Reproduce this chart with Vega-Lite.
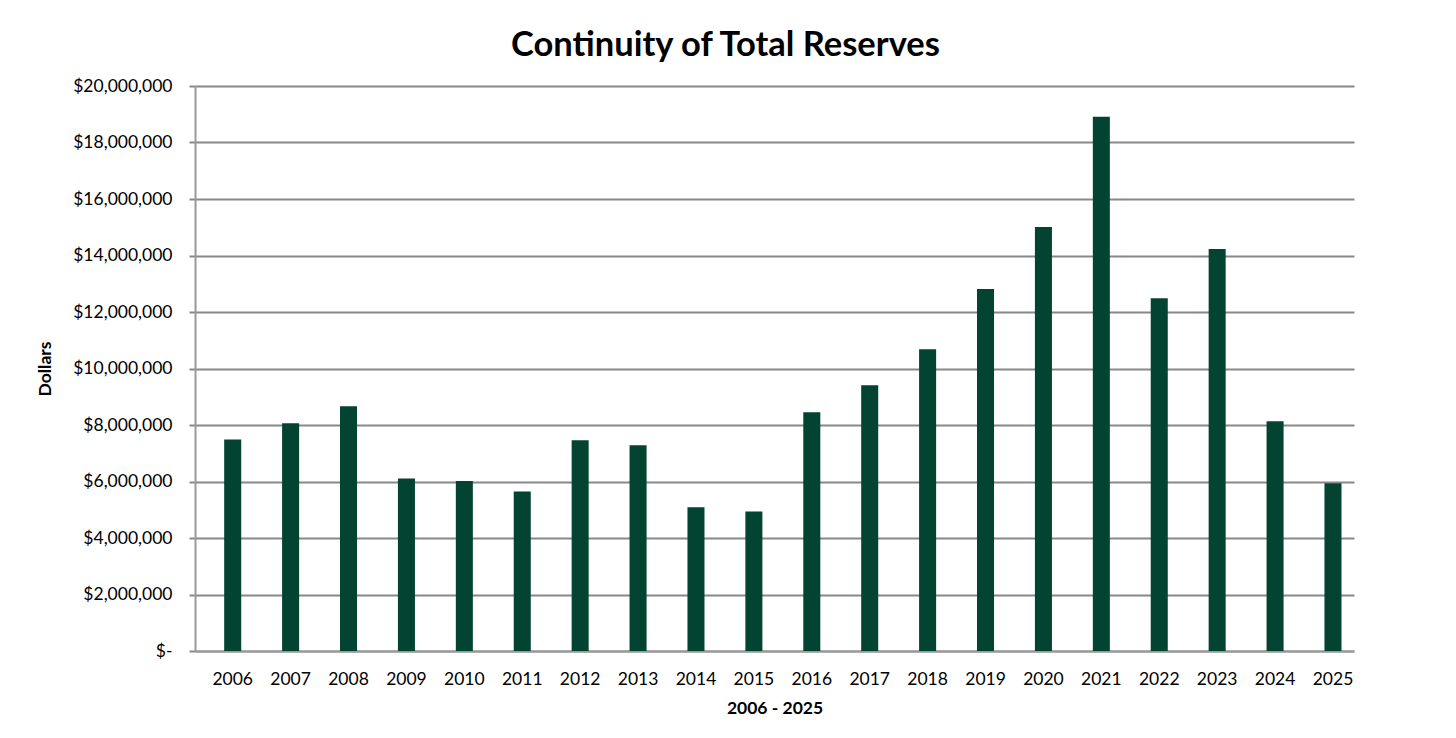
{
  "$schema": "https://vega.github.io/schema/vega-lite/v6.json",
  "width": 1159,
  "height": 565,
  "autosize": {"type": "none"},
  "padding": {"left": 195, "top": 86, "right": 102, "bottom": 87},
  "background": "white",
  "title": {
    "text": "Continuity of Total Reserves",
    "font": "Lato",
    "fontSize": 34.5,
    "fontWeight": "bold",
    "color": "#000000",
    "anchor": "middle",
    "dx": -49,
    "baseline": "alphabetic",
    "offset": -13
  },
  "data": {
    "values": [
      {"year": "2006", "value": 7490000},
      {"year": "2007", "value": 8060000},
      {"year": "2008", "value": 8660000},
      {"year": "2009", "value": 6110000},
      {"year": "2010", "value": 6020000},
      {"year": "2011", "value": 5650000},
      {"year": "2012", "value": 7460000},
      {"year": "2013", "value": 7280000},
      {"year": "2014", "value": 5090000},
      {"year": "2015", "value": 4940000},
      {"year": "2016", "value": 8450000},
      {"year": "2017", "value": 9410000},
      {"year": "2018", "value": 10680000},
      {"year": "2019", "value": 12810000},
      {"year": "2020", "value": 15010000},
      {"year": "2021", "value": 18910000},
      {"year": "2022", "value": 12490000},
      {"year": "2023", "value": 14230000},
      {"year": "2024", "value": 8130000},
      {"year": "2025", "value": 5940000}
    ]
  },
  "mark": {"type": "bar", "color": "#034331"},
  "encoding": {
    "x": {
      "field": "year",
      "type": "ordinal",
      "scale": {"paddingInner": 0.706, "paddingOuter": 0.36, "align": 0.7},
      "axis": {
        "title": "2006 - 2025",
        "titleFont": "Lato",
        "titleFontSize": 17.5,
        "titleFontWeight": "bold",
        "titleColor": "#000000",
        "titlePadding": 12,
        "labelFont": "Lato",
        "labelFontSize": 17.5,
        "labelColor": "#000000",
        "labelAngle": 0,
        "labelPadding": 19,
        "ticks": false,
        "domainColor": "#999999",
        "domainWidth": 2,
        "grid": false
      }
    },
    "y": {
      "field": "value",
      "type": "quantitative",
      "scale": {"domain": [0, 20000000], "nice": false},
      "axis": {
        "title": "Dollars",
        "titleFont": "Lato",
        "titleFontSize": 17.5,
        "titleFontWeight": "bold",
        "titleColor": "#000000",
        "titlePadding": 18,
        "values": [0, 2000000, 4000000, 6000000, 8000000, 10000000, 12000000, 14000000, 16000000, 18000000, 20000000],
        "labelExpr": "datum.value == 0 ? '$-' : '$' + format(datum.value, ',.0f')",
        "labelFont": "Lato",
        "labelFontSize": 17.5,
        "labelColor": "#000000",
        "labelPadding": 17,
        "tickSize": 6,
        "tickColor": "#888888",
        "tickWidth": 2,
        "domainColor": "#999999",
        "domainWidth": 2,
        "grid": true,
        "gridColor": "#888888",
        "gridWidth": 2
      }
    }
  },
  "config": {
    "view": {"stroke": null}
  }
}
